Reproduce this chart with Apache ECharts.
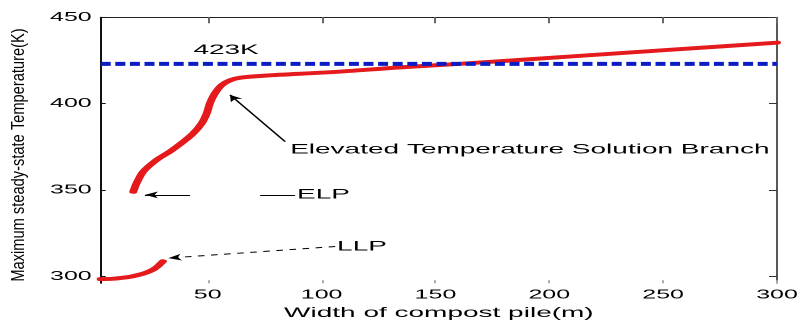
<!DOCTYPE html>
<html>
<head>
<meta charset="utf-8">
<script src="https://cdn.jsdelivr.net/npm/echarts@6.0.0/dist/echarts.min.js"></script>
<style>
  html, body { margin: 0; padding: 0; background: #fff; overflow: hidden; }
  /* the reference figure is stretched ~2x horizontally, so draw half width and scale it */
  #chart { width: 399.5px; height: 320px; transform: scaleX(2); transform-origin: 0 0; }
</style>
</head>
<body>
<div id="chart"></div>
<script>
const xTicks = [50, 100, 150, 200, 250, 300];
const yTicks = [300, 350, 400, 450];

// lower solution branch, ends at LLP
const lowWidth = [3, 8, 12, 16, 20, 23, 26, 28, 30.3];
const lowTemp = [298.4, 298.6, 299.1, 299.8, 301, 302.2, 303.9, 305.8, 308.7];

// elevated temperature branch, starts at ELP
const highWidth = [17.3, 18.7, 21.7, 27.6, 33.4, 39.3, 43.7, 47.4, 49.6, 51, 53.2, 56.2, 59.8, 64, 76, 105, 134.6, 160, 208, 252, 300];
const highTemp = [349, 353.8, 360.7, 367.5, 372.3, 378, 382.9, 388.7, 394.5, 400.3, 406, 410.8, 413.5, 415, 416.3, 418.3, 421, 423, 427.2, 431.1, 435.3];

// 423K limit
const limitWidth = [3, 300];
const limitTemp = 423;

// annotations (data coords)
const note423 = [43.7, 431.1];
const noteBranch = [86.2, 373.3];
const noteElp = [89.2, 347.2];
const noteLlp = [106.8, 317.3];
const branchArrow = [[84, 378], [59.8, 405.1]];
const elpArrow = [[42.2, 347.2], [22.4, 347.2]];
const elpLead = [[73, 347.2], [88.4, 347.2]];
const llpArrow = [[106, 317.3], [32.7, 310.6]];

const font = 'Liberation Sans';
const red = '#e41a1c';
const blue = '#0c1cc4';

const pairs = (xs, ys) => xs.map((x, i) => [x, Array.isArray(ys) ? ys[i] : ys]);

const chart = echarts.init(document.getElementById('chart'), null, { devicePixelRatio: 2 });

const option = {
  animation: false,
  grid: { left: 50.35, right: 11.5, top: 17.3, bottom: 36.7, outerBoundsMode: 'none' },
  xAxis: [
    {
      type: 'value', min: 3, max: 300, position: 'bottom',
      name: 'Width of compost pile(m)', nameLocation: 'middle', nameGap: 17,
      nameTextStyle: { fontFamily: font, fontSize: 14, color: '#000' },
      axisLine: { show: false, onZero: false },
      axisTick: { show: true, inside: true, length: 3, customValues: xTicks, lineStyle: { color: '#aaa' } },
      axisLabel: { customValues: xTicks, margin: 5, fontFamily: font, fontSize: 12.5, color: '#000' },
      splitLine: { show: false }
    },
    {
      type: 'value', min: 3, max: 300, position: 'top',
      axisLine: { show: true, onZero: false, lineStyle: { color: '#222', width: 1 } },
      axisTick: { show: true, inside: true, length: 6, customValues: xTicks, lineStyle: { color: '#666' } },
      axisLabel: { show: false },
      splitLine: { show: false }
    }
  ],
  yAxis: [
    {
      type: 'value', min: 296, max: 450, position: 'left',
      axisLine: { show: true, onZero: false, lineStyle: { color: '#111', width: 1 } },
      axisTick: { show: true, inside: true, length: 2.5, customValues: yTicks, lineStyle: { color: '#111' } },
      axisLabel: { customValues: yTicks, margin: 4.5, fontFamily: font, fontSize: 12.5, color: '#000' },
      splitLine: { show: false }
    },
    {
      type: 'value', min: 296, max: 450, position: 'right',
      axisLine: { show: true, onZero: false, lineStyle: { color: '#222', width: 0.75 } },
      axisTick: { show: true, inside: true, length: 4, customValues: yTicks, lineStyle: { color: '#333' } },
      axisLabel: { show: false },
      splitLine: { show: false }
    }
  ],
  series: [
    {
      name: 'lower branch', type: 'line', xAxisIndex: 0, yAxisIndex: 0,
      data: pairs(lowWidth, lowTemp),
      showSymbol: false, smooth: 0.25,
      lineStyle: { color: red, width: 4, cap: 'round', join: 'round' }, z: 2
    },
    {
      name: 'elevated branch', type: 'line', xAxisIndex: 0, yAxisIndex: 0,
      data: pairs(highWidth, highTemp),
      showSymbol: false, smooth: 0.25,
      lineStyle: { color: red, width: 4, cap: 'round', join: 'round' }, z: 2
    },
    {
      name: '423K', type: 'line', xAxisIndex: 0, yAxisIndex: 0,
      data: pairs(limitWidth, limitTemp),
      showSymbol: false,
      lineStyle: { color: blue, width: 4, type: [5, 2.3], cap: 'butt' }, z: 3,
      markLine: {
        silent: true, animation: false,
        symbol: ['none', 'arrow'], symbolSize: [5, 6.5],
        label: { show: false },
        lineStyle: { color: '#000', width: 1, type: 'solid' },
        data: [
          [{ coord: branchArrow[0] }, { coord: branchArrow[1] }],
          [{ coord: elpArrow[0] }, { coord: elpArrow[1] }],
          [{ coord: elpLead[0], symbol: 'none' }, { coord: elpLead[1], symbol: 'none' }],
          [{ coord: llpArrow[0], lineStyle: { type: [3.3, 3.3] } }, { coord: llpArrow[1] }]
        ]
      }
    }
  ]
};

chart.setOption(option);

const px = (p) => chart.convertToPixel({ xAxisIndex: 0, yAxisIndex: 0 }, p);
const noteText = (p, text) => {
  const [x, y] = px(p);
  return {
    type: 'text', x, y, silent: true,
    style: { text, fontFamily: font, fontSize: 14, fill: '#000', align: 'left', verticalAlign: 'middle' }
  };
};

chart.setOption({
  graphic: [
    noteText(note423, '423K'),
    noteText(noteBranch, 'Elevated Temperature Solution Branch'),
    noteText(noteElp, 'ELP'),
    noteText(noteLlp, 'LLP'),
    {
      // y title, squeezed across so it stays narrow after the stretch
      type: 'text', x: 9.8, y: 155, rotation: Math.PI / 2, scaleY: 0.6, silent: true,
      style: {
        text: 'Maximum steady-state Temperature(K)', fontFamily: font, fontSize: 14.66,
        fill: '#000', align: 'center', verticalAlign: 'middle'
      }
    }
  ]
});
</script>
</body>
</html>
